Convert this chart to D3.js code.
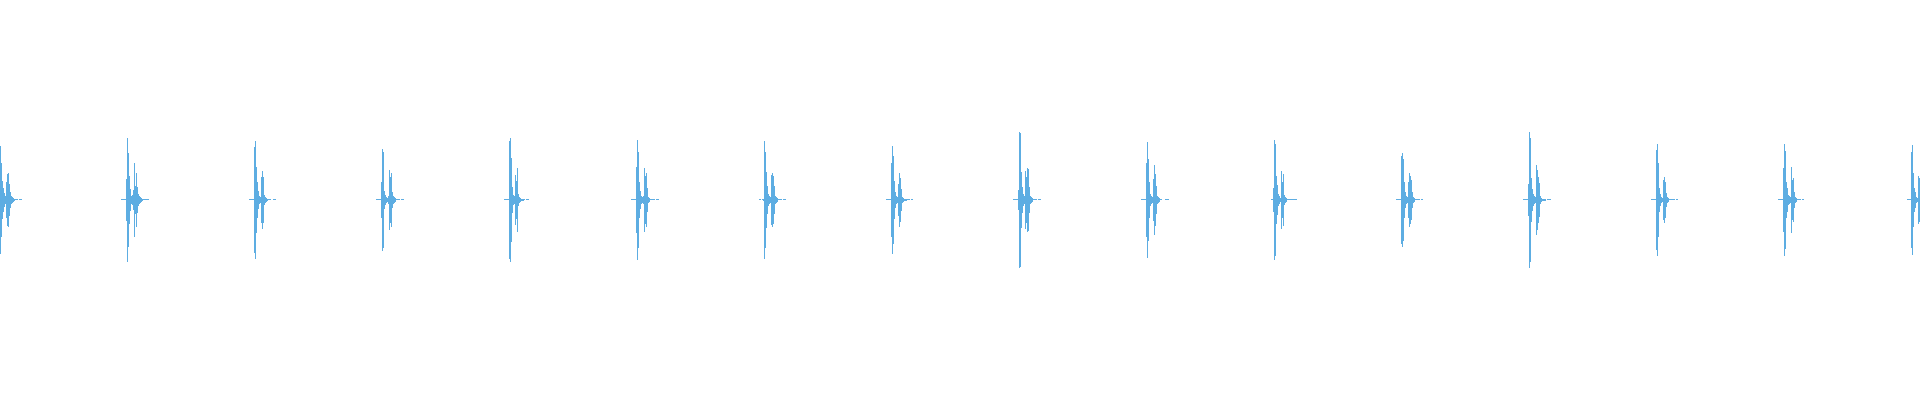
<!DOCTYPE html>
<html>
<head>
<meta charset="utf-8">
<script src="https://cdn.jsdelivr.net/npm/d3@7"></script>
<style>
  html, body { margin: 0; padding: 0; background: #fff; overflow: hidden; }
</style>
</head>
<body>
<div id="chart"></div>
<script>
// Recording: 15 s at 128 samples/s
const sampleRate = 128;
const duration = 15;

// Time (s) of the main spike of each heart sound
const beatPeaks = [0.0, 0.992, 1.992, 2.984, 3.984, 4.977, 5.969, 6.969, 7.961, 8.961, 9.953, 10.953, 11.945, 12.945, 13.938, 14.938];

// Envelope amplitude per sample, starting 6 samples before each main spike
const beatEnvelopes = [
  [0.5, 0.5, 0.5, 0.5, 0.5, 20, 54, 37, 19, 12, 7, 4, 18, 26, 27, 16, 8, 4, 3, 2, 1, 0.5, 0.5, 0.5, 0, 0.5, 0.5, 0.5],
  [0.5, 0.5, 0.5, 0.5, 0.5, 21, 62, 47, 24, 11, 4, 5, 10, 37, 14, 27, 13, 6, 4, 3, 2, 1, 0.5, 0.5, 0.5, 0.5, 0.5, 0.5],
  [0.5, 0.5, 0.5, 0.5, 0.5, 53, 59, 33, 18, 9, 4, 3, 23, 29, 23, 5, 3, 2, 1, 0.5, 0.5, 0.5, 0, 0, 0.5, 0.5, 0.5],
  [0.5, 0.5, 0.5, 0.5, 0.5, 18, 51, 48, 9, 5, 3, 2, 4, 30, 23, 27, 8, 4, 3, 2, 0.5, 0.5, 0.5, 0.5, 0, 0.5, 0.5, 0.5],
  [0.5, 0.5, 0.5, 0.5, 0.5, 59, 62, 42, 13, 5, 4, 25, 19, 32, 6, 3, 2, 1, 1, 1, 0.5, 0, 0.5, 0.5, 0.5],
  [0.5, 0.5, 0.5, 0.5, 0.5, 33, 60, 48, 18, 9, 4, 3, 4, 32, 24, 27, 12, 3, 2, 0.5, 0.5, 0.5, 0.5, 0.5, 0, 0.5, 0.5, 0.5],
  [0, 0.5, 0.5, 0, 0.5, 1, 59, 48, 28, 14, 6, 4, 3, 25, 27, 24, 14, 4, 3, 2, 0.5, 0.5, 0.5, 0.5, 0, 0.5, 0.5, 0.5],
  [0.5, 0.5, 0.5, 0.5, 0.5, 37, 54, 44, 19, 8, 4, 3, 16, 27, 22, 11, 3, 2, 1, 1, 1, 0.5, 0.5, 0.5, 0, 0.5, 0.5],
  [0.5, 0.5, 0.5, 0.5, 0.5, 10, 68, 67, 28, 13, 6, 4, 29, 23, 32, 31, 13, 4, 3, 2, 0.5, 0.5, 0.5, 0.5, 0, 0.5, 0.5, 0.5],
  [0.5, 0.5, 0.5, 0.5, 0.5, 37, 58, 41, 18, 6, 4, 3, 21, 35, 26, 14, 4, 3, 2, 0.5, 0.5, 0, 0, 0, 0.5, 0.5, 0.5, 0.5],
  [0, 0, 0, 0.5, 0.5, 12, 60, 56, 24, 15, 6, 4, 2, 29, 18, 26, 5, 3, 2, 0.5, 0.5, 0.5, 0.5, 0.5, 0.5, 0.5, 0.5, 0.5, 0.5],
  [0.5, 0.5, 0.5, 0.5, 0.5, 44, 47, 41, 18, 8, 4, 3, 18, 27, 24, 20, 8, 3, 2, 0.5, 0.5, 0.5, 0.5, 0.5, 0, 0.5, 0.5],
  [0.5, 0.5, 0.5, 0.5, 0.5, 16, 68, 62, 22, 11, 6, 4, 3, 35, 30, 23, 17, 4, 2, 1, 1, 1, 1, 0, 0.5, 0.5, 0.5, 0.5],
  [0.5, 0.5, 0.5, 0.5, 0.5, 50, 56, 37, 12, 6, 3, 2, 20, 23, 18, 7, 3, 2, 0.5, 0.5, 0.5, 0.5, 0.5, 0.5, 0, 0.5, 0.5],
  [0.5, 0.5, 0.5, 0.5, 0.5, 32, 56, 49, 18, 12, 5, 4, 3, 33, 20, 22, 8, 3, 2, 0.5, 0.5, 0.5, 0.5, 0, 0.5, 0.5],
  [0, 0.5, 0.5, 0.5, 0.5, 48, 55, 27, 12, 8, 3, 2, 24, 22],
];
const leadSamples = 6;

function renderWaveform(selector) {
  const width = 1920,
    height = 400;

  const x = d3.scaleLinear().domain([0, duration]).range([0, width]);
  const y = d3.scaleLinear().domain([-200, 200]).range([399.5, -0.5]);

  const svg = d3.select(selector).append("svg").attr("width", width).attr("height", height);

  // Flatten beats into samples
  const samples = [];
  beatPeaks.forEach((peak, i) => {
    const start = Math.round(peak * sampleRate) - leadSamples;
    beatEnvelopes[i].forEach((amp, j) => {
      if (amp > 0) samples.push({ t: (start + j) / sampleRate, amp });
    });
  });

  const step = x(1 / sampleRate) - x(0);

  svg
    .append("g")
    .attr("fill", "#5dade2")
    .attr("shape-rendering", "crispEdges")
    .selectAll("rect")
    .data(samples)
    .join("rect")
    .attr("x", (d) => x(d.t))
    .attr("width", step)
    .attr("y", (d) => y(d.amp))
    .attr("height", (d) => y(-d.amp) - y(d.amp));
}

renderWaveform("#chart");
</script>
</body>
</html>
